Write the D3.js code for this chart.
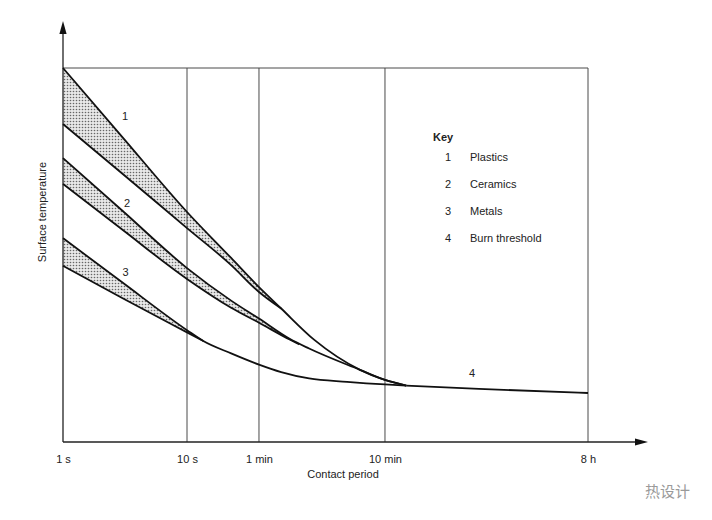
<!DOCTYPE html>
<html><head><meta charset="utf-8">
<script src="https://cdn.jsdelivr.net/npm/d3@7"></script>
<style>
body{margin:0;background:#fff}
svg{display:block}
text{font-family:"Liberation Sans",Arial,Helvetica,sans-serif;fill:#222}
</style>
</head><body>
<svg id="c" width="712" height="520"></svg>
<script>
// ---- data (time in seconds, surface temperature in relative units 0-100) ----
const tickSeconds = [1, 10, 60, 600, 28800];
const tickLabels = ["1 s", "10 s", "1 min", "10 min", "8 h"];

const plasticsUpper = [[1,100],[3,81.6],[10,61.5],[30,49.2],[60,41.4],[90,35.7],[165,27.3],[380,19.3],[600,16.6],[900,15.1]];
const plasticsLower = [[1,85.0],[3,71.8],[10,57.2],[30,47.3],[60,40.1],[90,35.7]];
const ceramicsUpper = [[1,75.9],[3,61.9],[10,46.5],[30,37.8],[60,33.0],[105,27.6],[150,25.0],[380,19.3],[600,16.6],[900,15.1]];
const ceramicsLower = [[1,69.0],[3,56.8],[10,43.6],[30,35.9],[60,31.9],[105,27.4],[125,26.1]];
const metalsUpper = [[1,54.5],[3,42.7],[10,29.9],[15,27.0],[30,23.7],[60,20.7],[90,18.7],[150,17.0],[300,16.1],[600,15.4],[900,15.1]];
const metalsLower = [[1,47.1],[3,38.5],[10,29.3],[15,27.0]];
const burnThreshold = [[900,15.1],[3600,14.2],[28800,13.1]];

const curveLabels = ["1","2","3","4"];
const curveLabelPos = [[3.16,87.2],[3.28,63.9],[3.2,45.5],[3150,18.4]];

const keyTitle = "Key";
const keyNumbers = ["1","2","3","4"];
const keyLabels = ["Plastics","Ceramics","Metals","Burn threshold"];

const xTitle = "Contact period";
const yTitle = "Surface temperature";
const watermark = "热设计";

// ---- layout ----
const W = 712, H = 520;
const m = {left: 63, top: 68, right: 124, bottom: 78};
const iw = W - m.left - m.right, ih = H - m.top - m.bottom;
const tickFrac = [0, 0.2362, 0.3733, 0.6133, 1];

const svg = d3.select("#c");
const defs = svg.append("defs");

const xs = d3.scaleLinear()
  .domain(tickSeconds.map(Math.log10))
  .range(tickFrac.map(f => m.left + f * iw));
const x = t => xs(Math.log10(t));
const y = d3.scaleLinear().domain([0, 100]).range([m.top + ih, m.top]);

// stipple pattern
const pat = defs.append("pattern").attr("id", "dots")
  .attr("patternUnits", "userSpaceOnUse").attr("width", 3).attr("height", 3);
pat.append("rect").attr("width", 3).attr("height", 3).attr("fill", "#e8e8e8");
pat.append("circle").attr("cx", 1.5).attr("cy", 1.5).attr("r", 0.8).attr("fill", "#666");

const curve = d3.curveMonotoneX;
const line = d3.line().x(d => x(d[0])).y(d => y(d[1])).curve(curve);
const areaBelow = d3.area().x(d => x(d[0])).y0(y(0)).y1(d => y(d[1])).curve(curve);
const areaAbove = d3.area().x(d => x(d[0])).y0(m.top).y1(d => y(d[1])).curve(curve);

const bands = [
  {up: plasticsUpper, lo: plasticsLower},
  {up: ceramicsUpper, lo: ceramicsLower},
  {up: metalsUpper, lo: metalsLower}
];
bands.forEach((b, i) => {
  defs.append("clipPath").attr("id", "clip" + i)
    .append("path").attr("d", areaAbove(b.lo));
  svg.append("path").attr("d", areaBelow(b.up))
    .attr("fill", "url(#dots)").attr("clip-path", `url(#clip${i})`);
});

// grid / frame
const frameColor = "#4a4a4a";
svg.append("g").selectAll("line").data(tickSeconds.slice(1)).join("line")
  .attr("x1", d => x(d)).attr("x2", d => x(d))
  .attr("y1", m.top).attr("y2", m.top + ih)
  .attr("stroke", frameColor).attr("stroke-width", 1);
svg.append("line").attr("x1", m.left).attr("x2", m.left + iw)
  .attr("y1", m.top).attr("y2", m.top).attr("stroke", frameColor).attr("stroke-width", 1);

// axes with arrows
svg.append("line").attr("x1", m.left).attr("x2", m.left).attr("y1", m.top + ih).attr("y2", 30)
  .attr("stroke", "#222").attr("stroke-width", 1.3);
svg.append("path").attr("d", `M${m.left},21 L${m.left-3.6},34 L${m.left+3.6},34 Z`).attr("fill", "#111");
svg.append("line").attr("x1", m.left).attr("x2", 640).attr("y1", m.top + ih).attr("y2", m.top + ih)
  .attr("stroke", "#222").attr("stroke-width", 1.3);
svg.append("path").attr("d", `M648,${m.top+ih} L635,${m.top+ih-3.6} L635,${m.top+ih+3.6} Z`).attr("fill", "#111");

// x tick labels via d3 axis
const ax = svg.append("g").attr("transform", `translate(0,${m.top + ih})`)
  .call(d3.axisBottom(xs).tickValues(tickSeconds.map(Math.log10))
    .tickFormat((d, i) => tickLabels[i]).tickSize(0).tickPadding(13));
ax.select(".domain").remove();
ax.selectAll("text").attr("font-size", 11).attr("fill", "#222")
  .style("font-family", '"Liberation Sans",Arial,sans-serif');

svg.append("text").attr("x", 343).attr("y", 478).attr("text-anchor", "middle")
  .attr("font-size", 11).text(xTitle);
svg.append("text").attr("transform", "translate(46,212) rotate(-90)")
  .attr("text-anchor", "middle").attr("font-size", 11).text(yTitle);

// curves
const series = [plasticsUpper, plasticsLower, ceramicsUpper, ceramicsLower, metalsUpper, metalsLower, burnThreshold];
svg.append("g").selectAll("path").data(series).join("path")
  .attr("d", line).attr("fill", "none").attr("stroke", "#111")
  .attr("stroke-width", 1.8).attr("stroke-linejoin", "round");

// curve labels
svg.append("g").selectAll("text").data(curveLabels).join("text")
  .attr("x", (d, i) => x(curveLabelPos[i][0])).attr("y", (d, i) => y(curveLabelPos[i][1]) + 4)
  .attr("text-anchor", "middle").attr("font-size", 11).text(d => d);

// key
const kx = 433, ky = 141;
svg.append("text").attr("x", kx).attr("y", ky).attr("font-size", 11).attr("font-weight", "bold").text(keyTitle);
const kg = svg.append("g");
kg.selectAll("text.n").data(keyNumbers).join("text").attr("class", "n")
  .attr("x", kx + 15).attr("y", (d, i) => ky + 20 + i * 27)
  .attr("text-anchor", "middle").attr("font-size", 11).text(d => d);
kg.selectAll("text.l").data(keyLabels).join("text").attr("class", "l")
  .attr("x", kx + 37).attr("y", (d, i) => ky + 20 + i * 27)
  .attr("font-size", 11).text(d => d);

// watermark
svg.append("text").attr("x", 690).attr("y", 497).attr("text-anchor", "end")
  .attr("font-size", 15).style("font-family", '"Noto Sans CJK SC",sans-serif')
  .style("fill", "#9a9a9a").text(watermark);
</script>
</body></html>
